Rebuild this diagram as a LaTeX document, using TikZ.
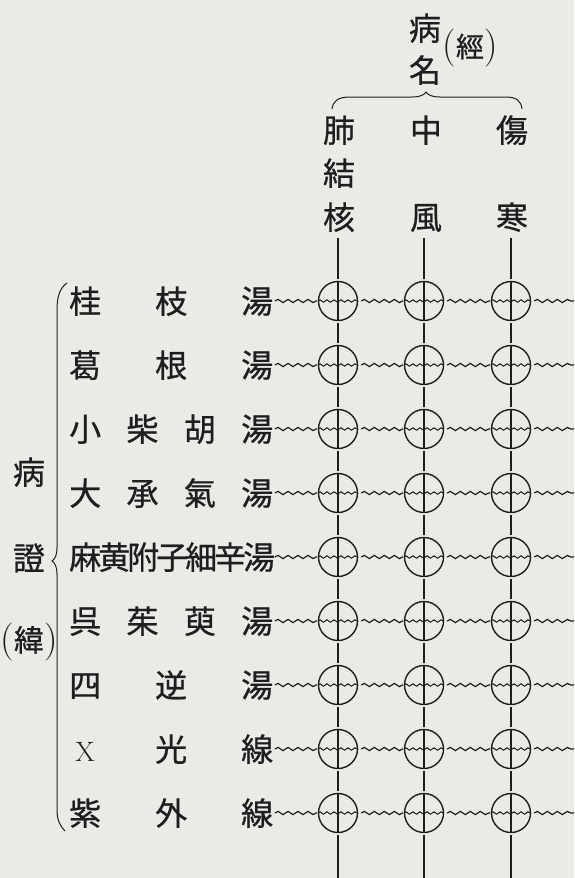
\documentclass[tikz,border=0pt]{standalone}
\usepackage{fontspec}
\newfontfamily\cjk{Noto Sans CJK JP}[FakeBold=0.7]
\usetikzlibrary{decorations.pathmorphing}
\definecolor{ink}{RGB}{30,30,30}
\definecolor{paper}{RGB}{234,234,231}
\newcommand{\cjkc}[1]{\makebox[29pt]{#1}}
\newcommand{\bigparen}[1]{{\rmfamily\fontsize{38}{38}\selectfont #1}}
\begin{document}
\begin{tikzpicture}[x=1pt,y=-1pt,
 ch/.style={font=\cjk\fontsize{32}{32}\selectfont, inner sep=0pt, text height=26.5pt, text depth=2pt, text=ink},
 rowtext/.style={ch, anchor=west},
 dot/.style={circle, draw=ink, line width=1.4pt, minimum size=39pt, inner sep=0pt},
 vline/.style={draw=ink, line width=1.1pt},
 wave/.style={draw=ink, line width=1.2pt, decorate, decoration={snake, segment length=10pt, amplitude=1.6pt}},
 iwave/.style={draw=ink, line width=1pt, decorate, decoration={snake, segment length=7pt, amplitude=1.2pt}},
 bracepath/.style={draw=ink, line width=1pt}]
\fill[paper] (0,0) rectangle (574,878);
\useasboundingbox (0,0) rectangle (574,878);

% top labels
\node[ch] (p1) at (425,28) {病};
\node[ch] (p2) at (425,70) {名};
\node[ch] (p3) at (470,45) {\bigparen{(}{\fontsize{28}{28}\selectfont 經}\bigparen{)}};
\draw[bracepath] (332,109) .. controls (333,101) and (338,97) .. (350,97) -- (412,97)
  .. controls (420,97) and (424,95) .. (426,92) .. controls (428,95) and (432,97) .. (440,97)
  -- (505,97) .. controls (517,97) and (521,101) .. (522,109);

% column labels
\node[ch] (h11) at (339,130) {肺};
\node[ch] (h12) at (339,173) {結};
\node[ch] (h13) at (339,217) {核};
\node[ch] (h21) at (426,130) {中};
\node[ch] (h22) at (426,217) {風};
\node[ch] (h31) at (512,130) {傷};
\node[ch] (h32) at (512,217) {寒};

% left labels
\node[ch] (q1) at (29,472) {病};
\node[ch] (q2) at (29,558) {證};
\node[ch] (q3) at (29,639) {\bigparen{(}{\fontsize{30}{30}\selectfont 緯}\bigparen{)}};
\draw[bracepath] (67,283) .. controls (60,288) and (57,296) .. (57,310) -- (57,548)
  .. controls (57,555) and (55,559) .. (52,561) .. controls (55,563) and (57,567) .. (57,574)
  -- (57,810) .. controls (57,820) and (60,826) .. (65,831);

% row texts
\node[rowtext] (l1) at (70.5,301) {\hbox to 201pt{\cjkc{桂}\hfill\cjkc{枝}\hfill\cjkc{湯}}};
\node[rowtext] (l2) at (70.5,365) {\hbox to 201pt{\cjkc{葛}\hfill\cjkc{根}\hfill\cjkc{湯}}};
\node[rowtext] (l3) at (70.5,429) {\hbox to 201pt{\cjkc{小}\hfill\cjkc{柴}\hfill\cjkc{胡}\hfill\cjkc{湯}}};
\node[rowtext] (l4) at (70.5,493) {\hbox to 201pt{\cjkc{大}\hfill\cjkc{承}\hfill\cjkc{氣}\hfill\cjkc{湯}}};
\node[rowtext] (l5) at (70.5,557) {\hbox to 201pt{\cjkc{麻}\hfill\cjkc{黄}\hfill\cjkc{附}\hfill\cjkc{子}\hfill\cjkc{細}\hfill\cjkc{辛}\hfill\cjkc{湯}}};
\node[rowtext] (l6) at (70.5,621) {\hbox to 201pt{\cjkc{呉}\hfill\cjkc{茱}\hfill\cjkc{萸}\hfill\cjkc{湯}}};
\node[rowtext] (l7) at (70.5,685) {\hbox to 201pt{\cjkc{四}\hfill\cjkc{逆}\hfill\cjkc{湯}}};
\node[rowtext] (l8) at (70.5,749) {\hbox to 201pt{\cjkc{\rmfamily\fontsize{28}{28}\selectfont X}\hfill\cjkc{光}\hfill\cjkc{線}}};
\node[rowtext] (l9) at (70.5,813) {\hbox to 201pt{\cjkc{紫}\hfill\cjkc{外}\hfill\cjkc{線}}};

% circles
\foreach \r/\y in {1/301,2/365,3/429,4/493,5/557,6/621,7/685,8/749,9/813} {
  \foreach \k/\x in {1/338,2/424,3/511} {
    \node[dot] (c\r\k) at (\x,\y) {};
    \draw[vline] (c\r\k.north) -- (c\r\k.south);
    \draw[iwave] (c\r\k.west) -- (c\r\k.east);
  }
  \coordinate (e\r) at (574,\y);
  \draw[wave] ([xshift=3pt]l\r.east) -- ([xshift=-1pt]c\r1.west);
  \draw[wave] ([xshift=3pt]c\r1.east) -- ([xshift=-1pt]c\r2.west);
  \draw[wave] ([xshift=3pt]c\r2.east) -- ([xshift=-1pt]c\r3.west);
  \draw[wave] ([xshift=3pt]c\r3.east) -- (e\r);
}

% vertical lines
\foreach \k/\x in {1/338,2/424,3/511} {
  \coordinate (t\k) at (\x,238);
  \coordinate (b\k) at (\x,878);
  \draw[vline, shorten >=2pt] (t\k) -- (c1\k.north);
  \foreach \r [count=\n from 2] in {1,...,8} {
    \draw[vline, shorten <=2pt, shorten >=2pt] (c\r\k.south) -- (c\n\k.north);
  }
  \draw[vline, shorten <=2pt] (c9\k.south) -- (b\k);
}
\end{tikzpicture}
\end{document}
